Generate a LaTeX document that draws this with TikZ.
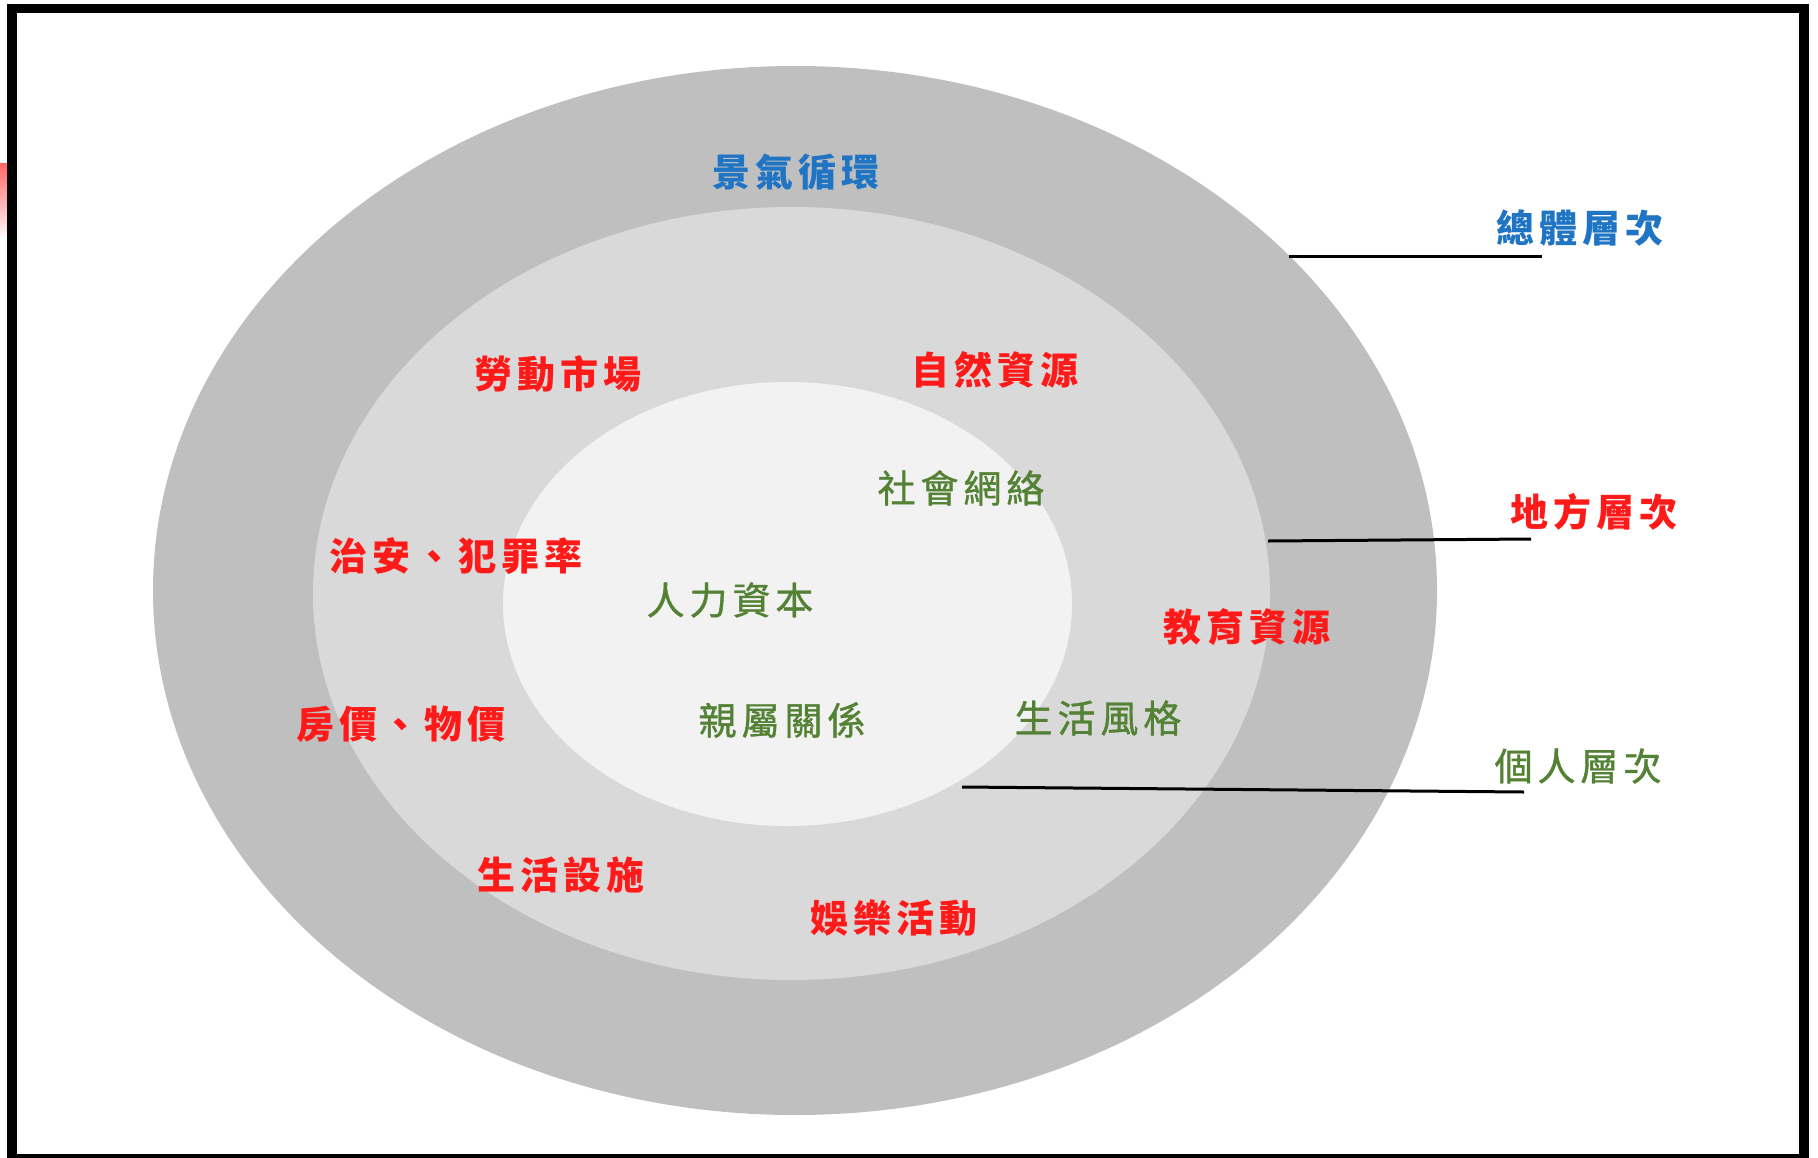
\documentclass[tikz,border=0pt]{standalone}
\usepackage{fontspec}
\newfontfamily\cjk{Noto Sans CJK TC}[LetterSpace=13]
\newfontfamily\cjkmed{Noto Sans CJK TC}[LetterSpace=13, FakeBold=1]
\definecolor{ringouter}{HTML}{BFBFBF}
\definecolor{ringmid}{HTML}{D9D9D9}
\definecolor{ringinner}{HTML}{F2F2F2}
\definecolor{txtred}{HTML}{FF1A1A}
\definecolor{txtblue}{HTML}{1F74C4}
\definecolor{txtgreen}{HTML}{548235}
\begin{document}
\begin{tikzpicture}[x=1pt,y=-1pt,
  lbl/.style={inner sep=0pt},
  redlbl/.style={lbl, text=txtred, font=\cjk\bfseries\fontsize{38}{44}\selectfont},
  bluelbl/.style={lbl, text=txtblue, font=\cjk\bfseries\fontsize{38}{44}\selectfont},
  greenlbl/.style={lbl, text=txtgreen, font=\cjkmed\fontsize{38}{44}\selectfont},
  leader/.style={draw=black, line width=3pt}]
\useasboundingbox (0,0) rectangle (1818,1157);
\clip (0,0) rectangle (1818,1157);
\fill[white] (0,0) rectangle (1818,1157);
% small red mark at the left edge
\shade[top color=red!60, bottom color=white] (0,163) rectangle (7,240);
% frame
\draw[black, line width=9.5pt] (12,8.5) rectangle (1804,1159);
% rings
\fill[ringouter] (795,590.5) ellipse [x radius=642pt, y radius=524.5pt];
\fill[ringmid] (791.5,593.5) ellipse [x radius=478.5pt, y radius=386.5pt];
\fill[ringinner] (787.5,604) ellipse [x radius=284.5pt, y radius=222pt];
% labels inside
\node[bluelbl] (jingqi) at (796,172) {景氣循環};
\node[redlbl] (laodong) at (558,374) {勞動市場};
\node[redlbl] (ziran) at (995,370) {自然資源};
\node[greenlbl] (shehui) at (961,488) {社會網絡};
\node[redlbl] (zhian) at (456,556) {治安、犯罪率};
\node[greenlbl] (renli) at (730,600) {人力資本};
\node[redlbl] (jiaoyu) at (1247,627) {教育資源};
\node[redlbl] (fangjia) at (401,724) {房價、物價};
\node[greenlbl] (qinshu) at (782,720) {親屬關係};
\node[greenlbl] (fengge) at (1098,718) {生活風格};
\node[redlbl] (sheshi) at (561,875) {生活設施};
\node[redlbl] (yule) at (894,918) {娛樂活動};
% level labels
\node[bluelbl] (zongti) at (1580,228) {總體層次};
\node[redlbl] (difang) at (1594,512) {地方層次};
\node[greenlbl] (geren) at (1578,766) {個人層次};
% leader lines
\coordinate (zongtiA) at (1289,256);
\coordinate (zongtiB) at (1542,256);
\coordinate (difangA) at (1268,541);
\coordinate (difangB) at (1531,539);
\coordinate (gerenA) at (962,787);
\coordinate (gerenB) at (1524,792);
\draw[leader] (zongtiA) -- (zongtiB);
\draw[leader] (difangA) -- (difangB);
\draw[leader] (gerenA) -- (gerenB);
\end{tikzpicture}
\end{document}
